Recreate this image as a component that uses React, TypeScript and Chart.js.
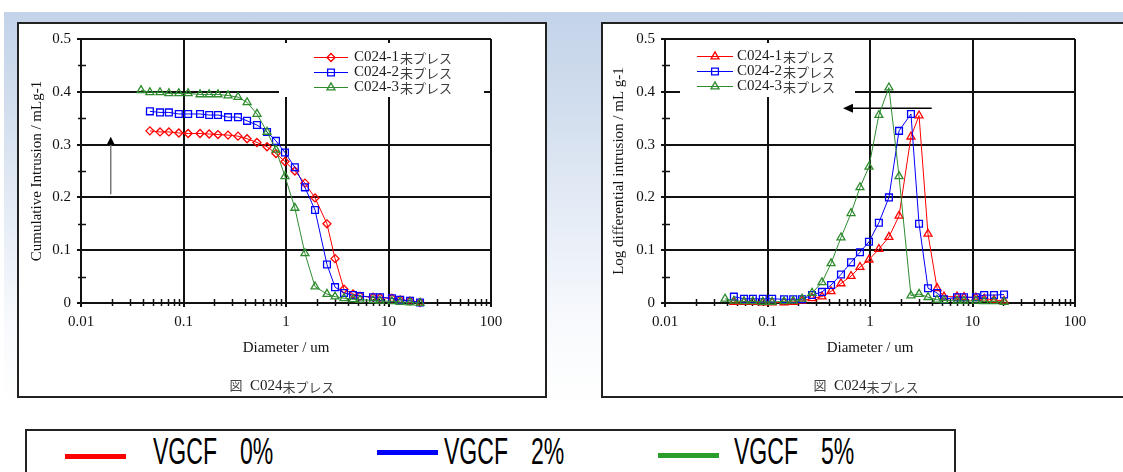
import React, { useEffect, useRef } from 'react';
import { Chart, registerables } from 'chart.js';

Chart.register(...registerables);

// ---------------- data ----------------
const diametersA = [0.047, 0.059, 0.072, 0.090, 0.111, 0.145, 0.178, 0.217, 0.272, 0.340, 0.417, 0.521, 0.653, 0.798, 0.977, 1.22, 1.53, 1.92, 2.51, 3.01, 3.68, 4.51, 5.27, 7.06, 8.26, 10.8, 13.0, 16.2, 20.3];
const diametersB = [0.0385, 0.047, 0.059, 0.072, 0.090, 0.111, 0.145, 0.178, 0.217, 0.272, 0.340, 0.417, 0.521, 0.653, 0.798, 0.977, 1.22, 1.53, 1.92, 2.51, 3.01, 3.68, 4.51, 5.27, 7.06, 8.26, 10.8, 13.0, 16.2, 20.3];

const cumRed = [0.326, 0.324, 0.324, 0.322, 0.321, 0.321, 0.320, 0.319, 0.318, 0.316, 0.311, 0.304, 0.296, 0.283, 0.268, 0.250, 0.227, 0.199, 0.150, 0.084, 0.026, 0.017, 0.013, 0.011, 0.010, 0.009, 0.006, 0.004, 0.001];
const cumBlue = [0.363, 0.361, 0.361, 0.358, 0.358, 0.358, 0.356, 0.356, 0.352, 0.352, 0.345, 0.337, 0.324, 0.307, 0.285, 0.257, 0.219, 0.176, 0.073, 0.030, 0.019, 0.015, 0.013, 0.011, 0.011, 0.009, 0.006, 0.004, 0.001];
const cumGreen = [0.403, 0.399, 0.399, 0.397, 0.397, 0.397, 0.395, 0.395, 0.395, 0.393, 0.390, 0.380, 0.358, 0.324, 0.290, 0.240, 0.180, 0.094, 0.031, 0.017, 0.012, 0.009, 0.007, 0.006, 0.005, 0.004, 0.003, 0.002, 0.001, 0.000];

const logRed = [0.002, 0.002, 0.002, 0.001, 0.001, 0.001, 0.002, 0.004, 0.009, 0.012, 0.022, 0.037, 0.051, 0.068, 0.082, 0.102, 0.125, 0.165, 0.315, 0.355, 0.131, 0.028, 0.012, 0.012, 0.011, 0.010, 0.008, 0.006, 0.004];
const logBlue = [0.012, 0.008, 0.008, 0.008, 0.008, 0.007, 0.007, 0.007, 0.015, 0.021, 0.034, 0.054, 0.077, 0.096, 0.116, 0.152, 0.200, 0.326, 0.358, 0.150, 0.028, 0.019, 0.007, 0.011, 0.011, 0.011, 0.015, 0.015, 0.016];
const logGreen = [0.008, 0.004, 0.003, 0.003, 0.002, 0.002, 0.003, 0.004, 0.008, 0.019, 0.039, 0.075, 0.124, 0.170, 0.219, 0.258, 0.356, 0.408, 0.240, 0.014, 0.017, 0.011, 0.006, 0.005, 0.004, 0.004, 0.004, 0.003, 0.003, 0.002];

const seriesNames = ['C024-1', 'C024-2', 'C024-3'];
const seriesSuffix = '未プレス';
const xTickValues = [0.01, 0.1, 1, 10, 100];
const xTickLabels = ['0.01', '0.1', '1', '10', '100'];
const yTickLabels = ['0', '0.1', '0.2', '0.3', '0.4', '0.5'];
const xMinorTicks = [0.02, 0.03, 0.04, 0.05, 0.06, 0.07, 0.08, 0.09, 0.2, 0.3, 0.4, 0.5, 0.6, 0.7, 0.8, 0.9, 2, 3, 4, 5, 6, 7, 8, 9, 20, 30, 40, 50, 60, 70, 80, 90];
const yMinorTicks = [0.05, 0.15, 0.25, 0.35, 0.45];
const leftArrow = { x1: 0.0195, y1: 0.206, x2: 0.0195, y2: 0.315 };
const rightArrow = { x1: 4.0, y1: 0.369, x2: 0.545, y2: 0.369 };
const bottomLegendLabels = ['VGCF 0%', 'VGCF 2%', 'VGCF 5%'];
const captionLabel = ['図', 'C024', '未プレス'];

// ---------------- styles ----------------
const RED = '#ff0000';
const BLUE = '#0000ff';
const GREEN = '#2e8b2e';
const SERIF = '"Liberation Serif", "Times New Roman", serif';
const CJK = '"Noto Sans CJK JP", sans-serif';

Chart.defaults.font.family = SERIF;
Chart.defaults.color = '#111';

function pts(xs: number[], ys: number[]) {
  return xs.map((x, i) => ({ x, y: ys[i] }));
}

function drawMarker(ctx: CanvasRenderingContext2D, style: string, x: number, y: number, r: number) {
  ctx.beginPath();
  if (style === 'triangle') {
    let rad = 0;
    ctx.moveTo(x + Math.sin(rad) * r, y - Math.cos(rad) * r);
    rad += (2 * Math.PI) / 3;
    ctx.lineTo(x + Math.sin(rad) * r, y - Math.cos(rad) * r);
    rad += (2 * Math.PI) / 3;
    ctx.lineTo(x + Math.sin(rad) * r, y - Math.cos(rad) * r);
    ctx.closePath();
  } else if (style === 'rect') {
    const s = Math.SQRT1_2 * r;
    ctx.rect(x - s, y - s, 2 * s, 2 * s);
  } else {
    ctx.moveTo(x - r, y);
    ctx.lineTo(x, y - r);
    ctx.lineTo(x + r, y);
    ctx.lineTo(x, y + r);
    ctx.closePath();
  }
  ctx.stroke();
}

const decorPlugin = {
  id: 'decor',
  beforeDatasetsDraw(chart: any, _args: any, opts: any) {
    const { ctx, scales } = chart;
    const xs = scales.x;
    const ys = scales.y;
    ctx.save();
    // minor ticks
    ctx.strokeStyle = '#111';
    ctx.lineWidth = 1.5;
    const axisY = ys.getPixelForValue(0);
    xMinorTicks.forEach((v) => {
      const px = Math.round(xs.getPixelForValue(v)) + 0.5;
      ctx.beginPath();
      ctx.moveTo(px, axisY - 4);
      ctx.lineTo(px, axisY + 3);
      ctx.stroke();
    });
    const axisX = xs.getPixelForValue(0.01);
    yMinorTicks.forEach((v) => {
      const py = Math.round(ys.getPixelForValue(v)) + 0.5;
      ctx.beginPath();
      ctx.moveTo(axisX - 3, py);
      ctx.lineTo(axisX + 5, py);
      ctx.stroke();
    });

    // legend box
    const L = opts.legend;
    ctx.fillStyle = '#ffffff';
    ctx.fillRect(L.box[0], L.box[1], L.box[2], L.box[3]);
    chart.data.datasets.forEach((ds: any, i: number) => {
      const y = L.rows[i];
      ctx.strokeStyle = ds.borderColor;
      ctx.lineWidth = 1;
      ctx.beginPath();
      ctx.moveTo(L.lineX1, y + 0.5);
      ctx.lineTo(L.lineX2, y + 0.5);
      ctx.stroke();
      ctx.lineWidth = 1.3;
      ctx.fillStyle = '#ffffff';
      drawMarker(ctx, ds.pointStyle, L.markerX, y + 0.5, ds.pointRadius);
      ctx.textBaseline = 'middle';
      ctx.textAlign = 'left';
      ctx.font = '15px ' + SERIF;
      ctx.fillStyle = '#1a1a1a';
      ctx.fillText(seriesNames[i], L.textX, y);
      const w = ctx.measureText(seriesNames[i]).width;
      ctx.font = '13px ' + CJK;
      ctx.fillStyle = '#3a3a3a';
      ctx.fillText(seriesSuffix, L.textX + w + 1, y + 1);
    });

    // arrow
    const A = opts.arrow;
    const x1 = xs.getPixelForValue(A.pos.x1);
    const y1 = ys.getPixelForValue(A.pos.y1);
    const x2 = xs.getPixelForValue(A.pos.x2);
    const y2 = ys.getPixelForValue(A.pos.y2);
    const ang = Math.atan2(y2 - y1, x2 - x1);
    const hx = x2 - Math.cos(ang) * A.headLen;
    const hy = y2 - Math.sin(ang) * A.headLen;
    ctx.strokeStyle = A.color;
    ctx.lineWidth = A.width;
    ctx.beginPath();
    ctx.moveTo(x1, y1);
    ctx.lineTo(hx, hy);
    ctx.stroke();
    ctx.fillStyle = '#000';
    ctx.beginPath();
    ctx.moveTo(x2, y2);
    ctx.lineTo(hx + Math.sin(ang) * A.headW, hy - Math.cos(ang) * A.headW);
    ctx.lineTo(hx - Math.sin(ang) * A.headW, hy + Math.cos(ang) * A.headW);
    ctx.closePath();
    ctx.fill();
    ctx.restore();
  },
};

function makeDataset(label: string, xs: number[], ys: number[], color: string, style: string, radius: number, order: number) {
  return {
    label,
    data: pts(xs, ys),
    showLine: true,
    borderColor: color,
    backgroundColor: color,
    borderWidth: 1,
    pointStyle: style,
    pointRadius: radius,
    pointHoverRadius: radius,
    pointBorderWidth: 1.3,
    pointBorderColor: color,
    pointBackgroundColor: 'rgba(255,255,255,0)',
    tension: 0,
    clip: false,
    order,
  };
}

function makeConfig(datasets: any[], yTitle: string, yTitlePad: number, legend: any, arrow: any) {
  return {
    type: 'scatter',
    data: { datasets },
    plugins: [decorPlugin],
    options: {
      animation: false,
      responsive: false,
      devicePixelRatio: 1,
      events: [],
      layout: { padding: { left: 0, top: 12, right: 54, bottom: 0 } },
      plugins: {
        legend: { display: false },
        tooltip: { enabled: false },
        decor: { legend, arrow },
      },
      scales: {
        x: {
          type: 'logarithmic',
          min: 0.01,
          max: 100,
          afterBuildTicks: (s: any) => {
            s.ticks = xTickValues.map((v) => ({ value: v }));
          },
          afterFit: (s: any) => {
            s.height = 93;
          },
          ticks: {
            callback: (_v: any, i: number) => xTickLabels[i],
            font: { size: 15 },
            color: '#111',
            padding: 6,
            autoSkip: false,
            maxRotation: 0,
            minRotation: 0,
          },
          grid: { color: '#111', lineWidth: 2, tickLength: 4 },
          border: { display: true, color: '#111', width: 2 },
          title: {
            display: true,
            text: 'Diameter / um',
            font: { size: 15 },
            color: '#111',
            padding: { top: 0, bottom: 39 },
          },
        },
        y: {
          type: 'linear',
          min: 0,
          max: 0.5,
          afterFit: (s: any) => {
            s.width = 62;
          },
          ticks: {
            stepSize: 0.1,
            callback: (_v: any, i: number) => yTickLabels[i],
            font: { size: 15 },
            color: '#111',
            padding: 6,
          },
          grid: { color: '#111', lineWidth: 2, tickLength: 4 },
          border: { display: true, color: '#111', width: 2 },
          title: {
            display: true,
            text: yTitle,
            font: { size: 15 },
            color: '#111',
            padding: { top: yTitlePad, bottom: 0 },
          },
        },
      },
    },
  };
}

function ChartCanvas({ config }: { config: any }) {
  const ref = useRef<HTMLCanvasElement>(null);
  useEffect(() => {
    const chart = new Chart(ref.current as HTMLCanvasElement, config);
    return () => chart.destroy();
  }, []);
  return <canvas ref={ref} width={526} height={372} style={{ display: 'block', width: 526, height: 372 }} />;
}

const leftConfig = makeConfig(
  [
    makeDataset(seriesNames[0], diametersA, cumRed, RED, 'rectRot', 4, 3),
    makeDataset(seriesNames[1], diametersA, cumBlue, BLUE, 'rect', 4.8, 2),
    makeDataset(seriesNames[2], diametersB, cumGreen, GREEN, 'triangle', 4.6, 1),
  ],
  'Cumulative Intrusion / mLg-1',
  9,
  { box: [260, 19, 205, 54], rows: [33, 48, 63], lineX1: 295, lineX2: 329, markerX: 312, textX: 335 },
  { pos: leftArrow, color: '#777', width: 1.5, headLen: 8, headW: 4 }
);

const rightConfig = makeConfig(
  [
    makeDataset(seriesNames[0], diametersA, logRed, RED, 'triangle', 4.6, 3),
    makeDataset(seriesNames[1], diametersA, logBlue, BLUE, 'rect', 4.8, 2),
    makeDataset(seriesNames[2], diametersB, logGreen, GREEN, 'triangle', 4.6, 1),
  ],
  'Log differential intrusion / mL g-1',
  7,
  { box: [77, 19, 175, 54], rows: [32, 47, 62], lineX1: 94, lineX2: 130, markerX: 112, textX: 134 },
  { pos: rightArrow, color: '#000', width: 1.5, headLen: 10, headW: 4.5 }
);

function Caption({ center }: { center: number }) {
  return (
    <div
      style={{
        position: 'absolute',
        left: center - 120,
        top: 375,
        width: 240,
        textAlign: 'center',
        whiteSpace: 'pre',
        lineHeight: '20px',
      }}
    >
      <span style={{ fontFamily: CJK, fontSize: 13, color: '#444' }}>{captionLabel[0]}</span>
      <span style={{ fontFamily: SERIF, fontSize: 15, color: '#222' }}>{'  ' + captionLabel[1]}</span>
      <span style={{ fontFamily: CJK, fontSize: 13, color: '#444', position: 'relative', top: 2 }}>{captionLabel[2]}</span>
    </div>
  );
}

const bottomItems = [
  { color: RED, lineLeft: 65, lineTop: 454, textLeft: 153 },
  { color: BLUE, lineLeft: 377, lineTop: 450, textLeft: 444 },
  { color: '#2a9d2a', lineLeft: 658, lineTop: 453, textLeft: 734 },
];

export default function App() {
  useEffect(() => {
    document.body.style.margin = '0';
  }, []);
  return (
    <div
      style={{
        position: 'absolute',
        left: 0,
        top: 0,
        width: 1123,
        height: 472,
        overflow: 'hidden',
        background: '#ffffff',
      }}
    >
      <div
        style={{
          position: 'absolute',
          left: 4,
          top: 12,
          width: 1119,
          height: 392,
          background: 'linear-gradient(180deg, #c3d3e9 0%, #d2deee 25%, #e8eef7 55%, #f8fafd 80%, #ffffff 100%)',
        }}
      />
      <div
        style={{
          position: 'absolute',
          left: 17,
          top: 22,
          width: 526,
          height: 372,
          border: '2px solid #222',
          background: '#fff',
        }}
      >
        <ChartCanvas config={leftConfig} />
      </div>
      <div
        style={{
          position: 'absolute',
          left: 601,
          top: 22,
          width: 526,
          height: 372,
          border: '2px solid #222',
          background: '#fff',
        }}
      >
        <ChartCanvas config={rightConfig} />
      </div>
      <Caption center={282} />
      <Caption center={866} />

      <div
        style={{
          position: 'absolute',
          left: 25,
          top: 429,
          width: 927,
          height: 70,
          border: '2px solid #222',
          background: '#fff',
        }}
      />
      {bottomItems.map((it, i) => (
        <React.Fragment key={i}>
          <div
            style={{
              position: 'absolute',
              left: it.lineLeft,
              top: it.lineTop,
              width: 61,
              height: 5,
              background: it.color,
            }}
          />
          <div
            style={{
              position: 'absolute',
              left: it.textLeft,
              top: 434,
              fontFamily: '"Liberation Sans", Arial, sans-serif',
              fontSize: 36,
              lineHeight: '36px',
              color: '#000',
              whiteSpace: 'pre',
              wordSpacing: 26,
              transform: 'scaleX(0.64)',
              transformOrigin: 'left top',
            }}
          >
            {bottomLegendLabels[i]}
          </div>
        </React.Fragment>
      ))}
    </div>
  );
}
